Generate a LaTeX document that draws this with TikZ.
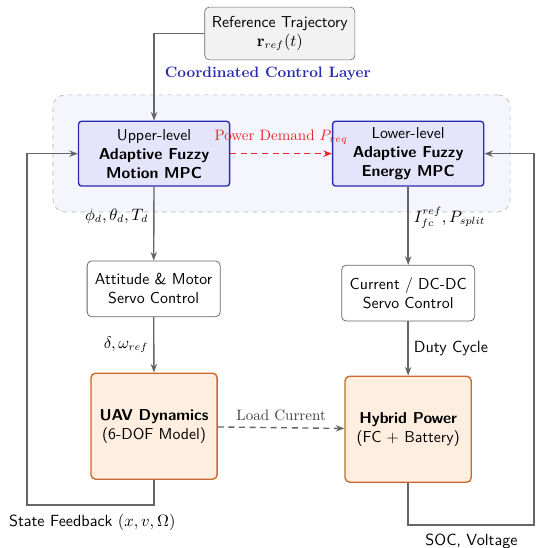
\documentclass[tikz,border=0pt]{standalone}
\usetikzlibrary{arrows.meta,positioning,backgrounds,calc}
\definecolor{cclblue}{HTML}{2B2BB0}
\definecolor{cclfill}{HTML}{E4E4FA}
\definecolor{cclbg}{HTML}{F4F5FD}
\definecolor{cclorange}{HTML}{C8682C}
\definecolor{cclpeach}{HTML}{FDEEDF}
\definecolor{cclgray}{HTML}{666666}
\definecolor{cclred}{HTML}{E8262A}

\begin{document}
\begin{tikzpicture}[>={Stealth[length=2mm]},
  font=\sffamily\fontsize{10.5}{12.6}\selectfont,
  mpcbox/.style={rectangle, rounded corners=2pt, draw=cclblue, fill=cclfill,
    line width=0.9pt, minimum width=3.52cm, minimum height=1.51cm, align=center},
  servobox/.style={rectangle, rounded corners=3pt, draw=cclgray, fill=white,
    line width=0.5pt, minimum width=3.1cm, minimum height=1.3cm, align=center},
  plantbox/.style={rectangle, rounded corners=3pt, draw=cclorange, fill=cclpeach,
    line width=0.9pt, minimum width=2.94cm, minimum height=2.47cm, align=center},
  flow/.style={->, draw=cclgray, line width=0.9pt},
  sig/.style={font=\sffamily\fontsize{10.7}{12.8}\selectfont, text=black}]
\useasboundingbox (0,0) rectangle (12.815,-12.745);

% coordinated layer
\node[rectangle, rounded corners=8pt, draw=gray!60, dashed, fill=cclbg,
      minimum width=10.65cm, minimum height=2.73cm] (layer) at (6.56,-3.575) {};
\node[font=\rmfamily\bfseries, text=cclblue] (layertitle) at (6.24,-1.72)
  {Coordinated Control Layer};

\node[rectangle, rounded corners=3pt, draw=cclgray, fill=gray!10,
      minimum width=3.5cm, minimum height=1.23cm, align=center]
  (ref) at (6.52,-0.78) {Reference Trajectory\\$\mathbf{r}_{ref}(t)$};

\node[mpcbox] (upper) at (3.59,-3.58)
  {Upper-level\\\textbf{Adaptive Fuzzy}\\\textbf{Motion MPC}};
\node[mpcbox] (lower) at (9.51,-3.58)
  {Lower-level\\\textbf{Adaptive Fuzzy}\\\textbf{Energy MPC}};

\node[servobox] (att) at (3.58,-6.73) {Attitude \& Motor\\Servo Control};
\node[servobox] (cur) at (9.51,-6.83) {Current / DC-DC\\Servo Control};

\node[plantbox] (uav) at (3.59,-9.93) {\textbf{UAV Dynamics}\\(6-DOF Model)};
\node[plantbox] (hyb) at (9.51,-10.0) {\textbf{Hybrid Power}\\(FC + Battery)};

\coordinate (fbl) at (0.63,-11.77);
\coordinate (fbr) at (12.44,-12.23);

% connectors
\draw[flow] (ref.west) -| (upper.north);
\draw[->, draw=cclred, dash pattern=on 4pt off 3pt, line width=1pt] (upper) -- (lower)
  node[midway, above=2pt, font=\rmfamily, text=cclred] (pdem) {Power Demand $P_{req}$};
\draw[flow] (upper) -- (att)
  node[pos=0.4, left, sig] (phid) {$\phi_d, \theta_d, T_d$};
\draw[flow] (lower) -- (cur)
  node[pos=0.4, right, sig] (ifc) {$I_{fc}^{ref}, P_{split}$};
\draw[flow] (att) -- (uav)
  node[midway, left, sig] (dlt) {$\delta, \omega_{ref}$};
\draw[flow] (cur) -- (hyb)
  node[midway, right, sig] (duty) {Duty Cycle};
\draw[->, draw=cclgray, dash pattern=on 4pt off 3pt, line width=0.9pt] (uav) -- (hyb)
  node[midway, above=1pt, font=\rmfamily, text=black!75] (load) {Load Current};
\draw[flow] (uav.south) |- (fbl) |- (upper.west);
\draw[flow] (hyb.south) |- (fbr) |- (lower.east);

\node[anchor=north west, sig, inner sep=1pt] (sfb) at (0.17,-11.93)
  {State Feedback $(x, v, \Omega)$};
\node[anchor=north east, sig, inner sep=1pt] (soc) at (12.1,-12.4) {SOC, Voltage};
\end{tikzpicture}
\end{document}
